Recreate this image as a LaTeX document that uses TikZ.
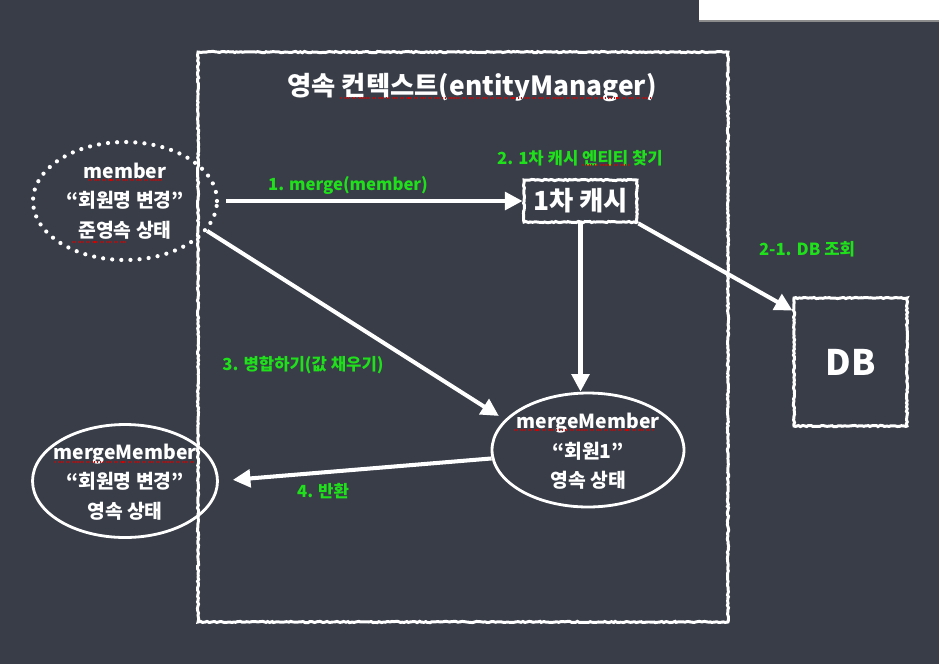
\documentclass[tikz,border=0pt]{standalone}
\usepackage{fontspec}
\setmainfont{Noto Sans CJK KR}
\usetikzlibrary{arrows.meta, positioning, shapes.geometric, decorations.pathmorphing}
\definecolor{board}{HTML}{383D48}
\definecolor{chalkgreen}{HTML}{1FE01A}
\tikzset{
  chalk/.style={
    decorate,
    decoration={random steps, segment length=1.2pt, amplitude=0.35pt}
  },
  chalkframe/.style={
    rectangle,
    draw=white,
    line width=1.7pt,
    chalk
  },
  chalkbox/.style={
    rectangle,
    draw=white,
    line width=1.7pt,
    text=white,
    chalk,
    font=\bfseries\fontsize{15}{18}\selectfont
  },
  entitytext/.style={
    text=white,
    align=center,
    font=\bfseries\fontsize{11}{16.7}\selectfont
  },
  detached/.style={
    ellipse,
    draw=white,
    line width=2.4pt,
    dash pattern=on 0pt off 5.2pt,
    line cap=round,
    inner sep=0pt
  },
  managed/.style={
    ellipse,
    draw=white,
    line width=1.6pt,
    inner sep=0pt
  },
  chalkarrow/.style={
    draw=white,
    line width=2.3pt,
    -{Triangle[width=10pt, length=10pt]}
  },
  note/.style={
    text=chalkgreen,
    font=\bfseries\fontsize{9.5}{11}\selectfont
  },
  spell/.style={
    draw=red!85!black,
    line width=0.6pt,
    densely dotted
  }
}

\begin{document}
\begin{tikzpicture}[x=0.02cm, y=-0.02cm]
  % Board
  \fill[board] (0,0) rectangle (939,664);
  \fill[black!45] (699,0) rectangle (939,22);
  \fill[white] (699,0) rectangle (939,20);
  \useasboundingbox (0,0) rectangle (939,664);

  % Persistence context
  \node[chalkframe, minimum width=10.6cm, minimum height=11.4cm] (ctx) at (463,337) {};
  \node[text=white, font=\bfseries\fontsize{15}{18}\selectfont] (ctxtitle) at (472,88) {영속 컨텍스트(entityManager)};

  % Entities
  \node[detached, minimum width=3.68cm, minimum height=2.36cm] (member) at (125,201) {};
  \node[entitytext] (membertext) at (member) {member\\“회원명 변경”\\준영속 상태};
  \node[chalkbox, minimum width=2.26cm, minimum height=0.84cm] (cache) at (580.5,201) {1차 캐시};
  \node[chalkbox, minimum width=2.26cm, minimum height=2.56cm, font=\bfseries\fontsize{20}{24}\selectfont] (db) at (850.5,362) {DB};
  \node[managed, minimum width=3.84cm, minimum height=2.28cm] (merged) at (588,450) {};
  \node[entitytext] (mergedtext) at ([yshift=-0.03cm]merged) {mergeMember\\“회원1”\\영속 상태};
  \node[managed, minimum width=3.7cm, minimum height=2.26cm] (returned) at (125,481) {};
  \node[entitytext] (returnedtext) at ([yshift=-0.02cm]returned) {mergeMember\\“회원명 변경”\\영속 상태};

  % Steps
  \draw[chalkarrow, shorten <=4pt] (member.east) -- (cache.west);
  \draw[chalkarrow] (cache.south east) -- ([yshift=-0.28cm]db.north west);
  \draw[chalkarrow] (cache.south) -- (cache.south |- merged.north);
  \draw[chalkarrow, shorten >=4pt] (member.-20) -- (merged.160);
  \draw[chalkarrow, shorten >=0.28cm] (merged.185) -- (returned.east);

  % Step labels
  \node[note] (lmerge) at (348,185) {1. merge(member)};
  \node[note] (lfind) at (580,158) {2. 1차 캐시 엔티티 찾기};
  \node[note] (ldb) at (807,249) {2-1. DB 조회};
  \node[note] (lfill) at (303,365) {3. 병합하기(값 채우기)};
  \node[note] (lreturn) at (323,491) {4. 반환};

  % Spell-check marks
  \draw[spell] (341,98) -- (653,98);
  \draw[spell] (88,180) -- (163,180);
  \draw[spell] (72,242) -- (128,242);
  \draw[spell] (583,165) -- (628,165);
  \draw[spell] (514,430) -- (652,430);
  \draw[spell] (55,462) -- (195,462);
\end{tikzpicture}
\end{document}
